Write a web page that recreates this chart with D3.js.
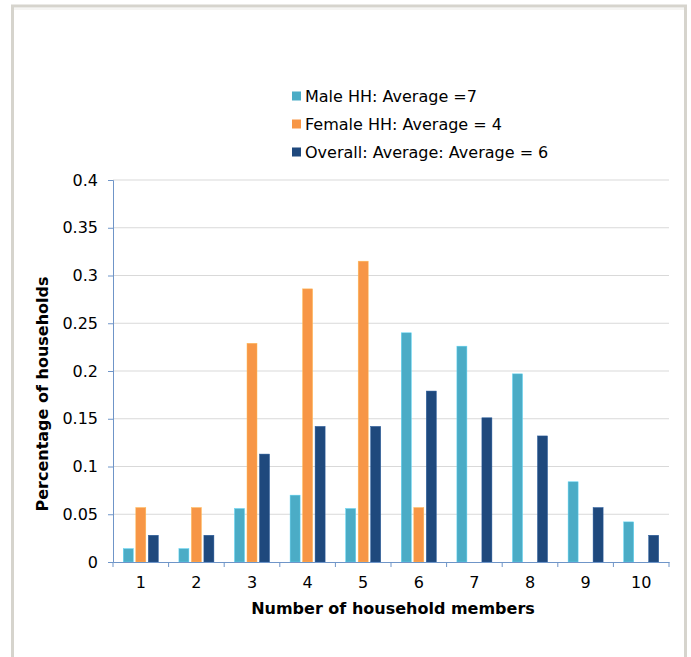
<!DOCTYPE html>
<html>
<head>
<meta charset="utf-8">
<script src="https://cdn.jsdelivr.net/npm/d3@7"></script>
<style>
  body { margin: 0; background: #fff; }
  text { font-family: "DejaVu Sans", Verdana, sans-serif; fill: #000; }
</style>
</head>
<body>
<svg width="691" height="657"></svg>
<script>
// data
var categories = ['1', '2', '3', '4', '5', '6', '7', '8', '9', '10'];
var seriesNames = ['Male HH: Average =7', 'Female HH: Average = 4', 'Overall: Average: Average = 6'];
var maleValues = [0.014, 0.014, 0.056, 0.070, 0.056, 0.240, 0.226, 0.197, 0.084, 0.042];
var femaleValues = [0.057, 0.057, 0.229, 0.286, 0.315, 0.057, 0, 0, 0, 0];
var overallValues = [0.028, 0.028, 0.113, 0.142, 0.142, 0.179, 0.151, 0.132, 0.057, 0.028];
var yTicks = [0, 0.05, 0.1, 0.15, 0.2, 0.25, 0.3, 0.35, 0.4];
var colors = ['#4bacc6', '#f79646', '#1f497d'];

var series = [maleValues, femaleValues, overallValues];

var svg = d3.select('svg');

// outer frame
svg.append('rect')
    .attr('x', 12.5).attr('y', 6).attr('width', 673).attr('height', 700)
    .attr('fill', '#fff')
    .attr('stroke', '#d6d4cd')
    .attr('stroke-width', 3);
svg.append('line')
    .attr('x1', 14).attr('x2', 684).attr('y1', 9).attr('y2', 9)
    .attr('stroke', '#ebeae6').attr('stroke-width', 1);

var plotLeft = 113, plotRight = 669, plotTop = 180, plotBottom = 562;

var x = d3.scaleBand()
    .domain(categories)
    .range([plotLeft, plotRight]);

var sub = d3.scaleBand()
    .domain(d3.range(series.length))
    .range([x.bandwidth() / 2 - 17.5, x.bandwidth() / 2 + 17.5])
    .paddingInner(0.2);

var y = d3.scaleLinear()
    .domain([0, 0.4])
    .range([plotBottom, plotTop]);

// gridlines
svg.append('g')
    .selectAll('line')
    .data(yTicks.slice(1))
    .enter()
    .append('line')
    .attr('x1', plotLeft).attr('x2', plotRight)
    .attr('y1', d => y(d)).attr('y2', d => y(d))
    .attr('stroke', '#d9d9d9')
    .attr('stroke-width', 1);

// bars
series.forEach(function(vals, si) {
    var rows = vals.map((v, i) => ({cat: categories[i], v: v})).filter(d => d.v > 0);
    svg.append('g')
        .selectAll('rect')
        .data(rows)
        .enter()
        .append('rect')
        .attr('x', d => x(d.cat) + sub(si))
        .attr('y', d => y(d.v))
        .attr('width', sub.bandwidth())
        .attr('height', d => plotBottom - y(d.v))
        .attr('fill', colors[si])
        .attr('stroke', d3.color(colors[si]).brighter(0.6))
        .attr('stroke-width', 0.5);
});

// y axis
var yAxis = d3.axisLeft(y)
    .tickValues(yTicks)
    .tickSize(5)
    .tickPadding(10)
    .tickFormat(d => String(+d.toFixed(2)));
var gy = svg.append('g')
    .attr('transform', 'translate(' + plotLeft + ',0)')
    .call(yAxis);
gy.select('.domain').attr('stroke', '#6f95c8');
gy.selectAll('.tick line').attr('stroke', '#6f95c8');
gy.selectAll('.tick text')
    .attr('font-size', 16)
    .attr('font-family', '"DejaVu Sans", Verdana, sans-serif')
    .attr('fill', '#000');

// x axis
var xAxis = d3.axisBottom(x).tickSize(0).tickPadding(15);
var gx = svg.append('g')
    .attr('transform', 'translate(0,' + plotBottom + ')')
    .call(xAxis);
gx.select('.domain').attr('stroke', '#6f95c8');
gx.selectAll('.tick text')
    .attr('font-size', 16)
    .attr('font-family', '"DejaVu Sans", Verdana, sans-serif')
    .attr('fill', '#000');

// category boundary ticks
svg.append('g')
    .selectAll('line')
    .data(categories.concat(['end']))
    .enter()
    .append('line')
    .attr('x1', d => d === 'end' ? plotRight : x(d))
    .attr('x2', d => d === 'end' ? plotRight : x(d))
    .attr('y1', plotBottom).attr('y2', plotBottom + 5)
    .attr('stroke', '#6f95c8');

// axis titles
svg.append('text')
    .attr('text-anchor', 'middle')
    .attr('x', (plotLeft + plotRight) / 2 + 2)
    .attr('y', 614)
    .attr('font-size', 16)
    .attr('font-weight', 'bold')
    .text('Number of household members');

svg.append('text')
    .attr('text-anchor', 'middle')
    .attr('transform', 'translate(48,394) rotate(-90)')
    .attr('font-size', 16)
    .attr('font-weight', 'bold')
    .text('Percentage of households');

// legend
var legend = svg.append('g')
    .selectAll('g')
    .data(seriesNames)
    .enter()
    .append('g')
    .attr('transform', (d, i) => 'translate(292,' + (96 + i * 28) + ')');
legend.append('rect')
    .attr('x', 0).attr('y', -4.5)
    .attr('width', 9).attr('height', 9)
    .attr('fill', (d, i) => colors[i]);
legend.append('text')
    .attr('x', 13)
    .attr('y', 6)
    .attr('font-size', 16)
    .text(d => d);
</script>
</body>
</html>
